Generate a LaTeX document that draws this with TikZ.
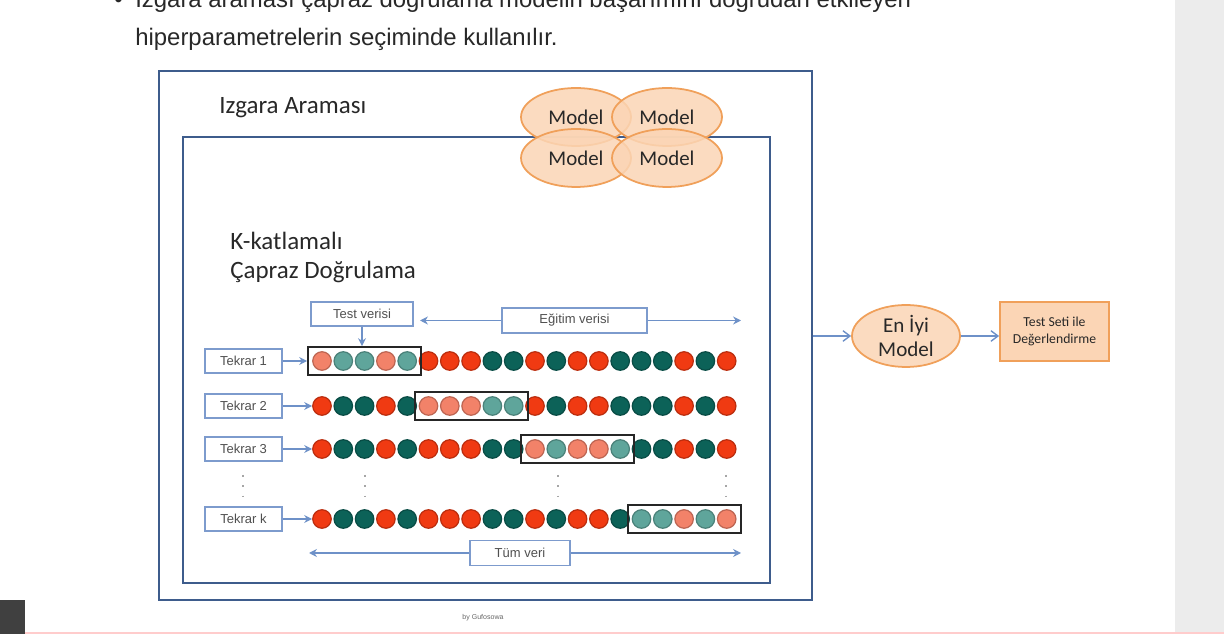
\documentclass[tikz,border=0pt]{standalone}
\usepackage{fontspec}
\setmainfont{Liberation Sans}
\newfontfamily\calibri{Carlito}
\usetikzlibrary{shapes.geometric,arrows.meta,positioning,fit,calc}

\definecolor{frameblue}{RGB}{62,92,140}
\definecolor{boxblue}{RGB}{125,155,205}
\definecolor{arrblue}{RGB}{110,145,200}
\definecolor{modelfill}{RGB}{251,213,181}
\definecolor{modelline}{RGB}{240,160,90}
\definecolor{darktext}{RGB}{40,40,40}
\definecolor{labgray}{RGB}{80,80,80}
\definecolor{cR}{RGB}{240,58,18}
\definecolor{cG}{RGB}{12,98,88}
\definecolor{cr}{RGB}{242,130,105}
\definecolor{cg}{RGB}{95,165,155}
\definecolor{stripgray}{RGB}{236,236,236}

\begin{document}
\begin{tikzpicture}[x=0.02cm, y=-0.02cm,
    frame/.style={draw=frameblue, line width=1.2pt, inner sep=0pt},
    tag/.style={draw=boxblue, line width=0.9pt, inner sep=0pt, text=labgray,
      font=\fontsize{7.4}{8}\selectfont},
    arr/.style={-{Stealth[length=4.5pt,width=4.5pt]}, draw=arrblue, line width=0.8pt},
    barb/.style={-{Straight Barb[length=4pt,width=6pt]}, draw=arrblue, line width=0.8pt},
    model/.style={ellipse, draw=modelline, line width=1pt, fill=modelfill,
      fill opacity=0.85, text opacity=1, minimum width=2.2cm, minimum height=1.16cm,
      inner sep=0pt, text=darktext, font=\calibri\fontsize{11.9}{13}\selectfont},
    bead/.style={circle, minimum size=0.37cm, inner sep=0pt, line width=0.7pt},
    hl/.style={draw=black!85, line width=1.1pt, inner sep=2.3pt},
    heading/.style={text=darktext, inner sep=0pt, font=\calibri\fontsize{14.2}{16.4}\selectfont},
    slide/.style={anchor=base west, inner sep=0pt, text=darktext, font=\fontsize{13.6}{15}\selectfont},
]
\useasboundingbox (0,0) rectangle (1224,634);
\clip (0,0) rectangle (1224,634);

% page background
\fill[white] (0,0) rectangle (1224,634);
\fill[stripgray] (1175,0) rectangle (1224,634);
\fill[black!75] (0,600) rectangle (25,634);
\draw[red!20, line width=0.6pt] (25,633) -- (1224,633);

% slide text
\node[slide] (bul) at (114,8) {\textbullet};
\node[slide] (line1) at (135,8)
  {Izgara araması çapraz doğrulama modelin başarımını doğrudan etkileyen};
\node[slide] (line2) at (135,46)
  {hiperparametrelerin seçiminde kullanılır.};

% frames
\node[frame, minimum width=13.06cm, minimum height=10.58cm] (grid) at (485.5,335.5) {};
\node[frame, minimum width=11.74cm, minimum height=8.92cm] (cv) at (476.5,360) {};
\node[heading, anchor=west] (gtitle) at (219,108) {Izgara Araması};
\node[heading, anchor=west, align=left] (cvtitle) at (230,257.5) {K-katlamalı\\Çapraz Doğrulama};

% model ellipses
\node[model] (m1) at (576,117) {Model};
\node[model] (m2) at (667,117) {Model};
\node[model] (m3) at (576,158) {Model};
\node[model] (m4) at (667,158) {Model};

% folds
\foreach \r/\yy/\seq in {
    1/361/{r,g,g,r,g,R,R,R,G,G,R,G,R,R,G,G,G,R,G,R},
    2/406/{R,G,G,R,G,r,r,r,g,g,R,G,R,R,G,G,G,R,G,R},
    3/449/{R,G,G,R,G,R,R,R,G,G,r,g,r,r,g,G,G,R,G,R},
    k/519/{R,G,G,R,G,R,R,R,G,G,R,G,R,R,G,g,g,r,g,r}}{
  \foreach \c [count=\i] in \seq
    \node[bead, fill=c\c, draw=c\c!78!black] (c-\r-\i) at ({322+(\i-1)*21.3},\yy) {};
  \node[tag, minimum width=1.54cm, minimum height=0.48cm] (t\r) at (243.5,\yy) {Tekrar \r};
}
\node[hl, fit=(c-1-1)(c-1-5)] (h1) {};
\node[hl, fit=(c-2-6)(c-2-10)] (h2) {};
\node[hl, fit=(c-3-11)(c-3-15)] (h3) {};
\node[hl, fit=(c-k-16)(c-k-20)] (hk) {};

\draw[arr] (t1) -- (h1);
\draw[arr] (t2) -- (c-2-1);
\draw[arr] (t3) -- (c-3-1);
\draw[arr] (tk) -- (c-k-1);

% vertical dots
\foreach \xx in {243,365,558,726}
  \draw[black!35, line width=0.9pt, dash pattern=on 0.9pt off 5pt] (\xx,475) -- (\xx,502);

% data labels
\node[tag, minimum width=2.04cm, minimum height=0.48cm] (tv) at (362,314) {Test verisi};
\draw[arr] (tv.south) -- (tv.south |- h1.north);
\node[tag, minimum width=2.9cm, minimum height=0.5cm] (ev) at (574.5,320.5) {Eğitim verisi};
\coordinate (evl) at (420,320.5);
\coordinate (evr) at (741,320.5);
\draw[arr] (ev) -- (evl);
\draw[arr] (ev) -- (evr);
\node[tag, minimum width=2.0cm, minimum height=0.5cm] (all) at (520,553) {Tüm veri};
\coordinate (alll) at (309,553);
\coordinate (allr) at (741,553);
\draw[arr] (all) -- (alll);
\draw[arr] (all) -- (allr);

% best model and test
\node[model, minimum width=2.16cm, minimum height=1.24cm, align=center,
  font=\calibri\fontsize{12}{13.6}\selectfont] (best) at (906,336) {En İyi\\Model};
\node[draw=modelline, fill=modelfill, line width=1pt, minimum width=2.18cm, minimum height=1.18cm,
  align=center, text=darktext, font=\calibri\fontsize{7.8}{9.6}\selectfont] (eval) at (1054.5,331.5)
  {Test Seti ile\\Değerlendirme};
\draw[barb] (grid.east |- best.west) -- (best.west);
\draw[barb] (best.east) -- (best.east -| eval.west);

\node[text=black!60, font=\fontsize{4}{5}\selectfont] (credit) at (483,618) {by Gufosowa};
\end{tikzpicture}
\end{document}
